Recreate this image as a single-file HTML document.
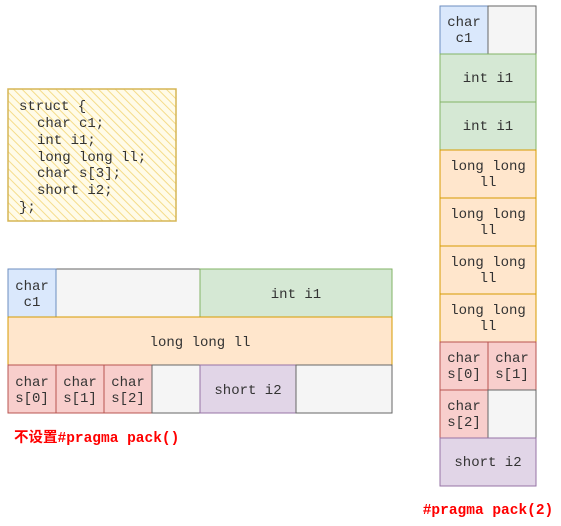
<!DOCTYPE html>
<html><head><meta charset="utf-8"><style>
html,body{margin:0;padding:0;background:#fff;}
svg text{font-family:"Liberation Mono","DejaVu Sans Mono",monospace;font-size:14px;fill:#333;text-anchor:middle;}
</style></head><body>
<svg width="561" height="521" viewBox="0 0 561 521" xmlns="http://www.w3.org/2000/svg">
<defs>
<pattern id="h" width="6" height="6" patternUnits="userSpaceOnUse" patternTransform="rotate(-45)">
<rect width="6" height="6" fill="#fffbe8"/>
<line x1="0" y1="0" x2="0" y2="6" stroke="#f5dc8a" stroke-width="2"/>
</pattern>
</defs>
<rect x="8" y="89" width="168" height="132" fill="url(#h)" stroke="#d6b656" stroke-width="1.5"/>
<text x="19" y="110" style="text-anchor:start">struct {</text>
<text x="37" y="127" style="text-anchor:start">char c1;</text>
<text x="37" y="144" style="text-anchor:start">int i1;</text>
<text x="37" y="161" style="text-anchor:start">long long ll;</text>
<text x="37" y="177" style="text-anchor:start">char s[3];</text>
<text x="37" y="194" style="text-anchor:start">short i2;</text>
<text x="19" y="211" style="text-anchor:start">};</text>
<!-- left grid -->
<rect x="56" y="269" width="144" height="48" fill="#f5f5f5" stroke="#666"/>
<rect x="8" y="269" width="48" height="48" fill="#dae8fc" stroke="#6c8ebf"/>
<rect x="200" y="269" width="192" height="48" fill="#d5e8d4" stroke="#82b366"/>
<rect x="8" y="317" width="384" height="48" fill="#ffe6cc" stroke="#d79b00"/>
<rect x="8" y="365" width="48" height="48" fill="#f8cecc" stroke="#b85450"/>
<rect x="56" y="365" width="48" height="48" fill="#f8cecc" stroke="#b85450"/>
<rect x="104" y="365" width="48" height="48" fill="#f8cecc" stroke="#b85450"/>
<rect x="152" y="365" width="48" height="48" fill="#f5f5f5" stroke="#666"/>
<rect x="200" y="365" width="96" height="48" fill="#e1d5e7" stroke="#9673a6"/>
<rect x="296" y="365" width="96" height="48" fill="#f5f5f5" stroke="#666"/>
<text x="32" y="290">char</text><text x="32" y="306">c1</text>
<text x="296" y="298">int i1</text>
<text x="200" y="346">long long ll</text>
<text x="32" y="386">char</text><text x="32" y="402">s[0]</text>
<text x="80" y="386">char</text><text x="80" y="402">s[1]</text>
<text x="128" y="386">char</text><text x="128" y="402">s[2]</text>
<text x="248" y="394">short i2</text>
<text x="14" y="442" style="text-anchor:start;fill:#ff0000;font-weight:bold;font-size:14.5px;font-family:'Liberation Mono','Noto Sans CJK SC',monospace">不设置#pragma pack()</text>
<!-- right column -->
<rect x="440" y="6" width="48" height="48" fill="#dae8fc" stroke="#6c8ebf"/>
<rect x="488" y="6" width="48" height="48" fill="#f5f5f5" stroke="#666"/>
<rect x="440" y="54" width="96" height="48" fill="#d5e8d4" stroke="#82b366"/>
<rect x="440" y="102" width="96" height="48" fill="#d5e8d4" stroke="#82b366"/>
<rect x="440" y="150" width="96" height="48" fill="#ffe6cc" stroke="#d79b00"/>
<rect x="440" y="198" width="96" height="48" fill="#ffe6cc" stroke="#d79b00"/>
<rect x="440" y="246" width="96" height="48" fill="#ffe6cc" stroke="#d79b00"/>
<rect x="440" y="294" width="96" height="48" fill="#ffe6cc" stroke="#d79b00"/>
<rect x="440" y="342" width="48" height="48" fill="#f8cecc" stroke="#b85450"/>
<rect x="488" y="342" width="48" height="48" fill="#f8cecc" stroke="#b85450"/>
<rect x="440" y="390" width="48" height="48" fill="#f8cecc" stroke="#b85450"/>
<rect x="488" y="390" width="48" height="48" fill="#f5f5f5" stroke="#666"/>
<rect x="440" y="438" width="96" height="48" fill="#e1d5e7" stroke="#9673a6"/>
<text x="464" y="26">char</text><text x="464" y="42">c1</text>
<text x="488" y="82">int i1</text>
<text x="488" y="130">int i1</text>
<text x="488" y="170">long long</text><text x="488" y="186">ll</text>
<text x="488" y="218">long long</text><text x="488" y="234">ll</text>
<text x="488" y="266">long long</text><text x="488" y="282">ll</text>
<text x="488" y="314">long long</text><text x="488" y="330">ll</text>
<text x="464" y="362">char</text><text x="464" y="378">s[0]</text>
<text x="512" y="362">char</text><text x="512" y="378">s[1]</text>
<text x="464" y="410">char</text><text x="464" y="426">s[2]</text>
<text x="488" y="466">short i2</text>
<text x="488" y="514" style="fill:#ff0000;font-weight:bold;font-size:14.5px">#pragma pack(2)</text>
</svg>
</body></html>
